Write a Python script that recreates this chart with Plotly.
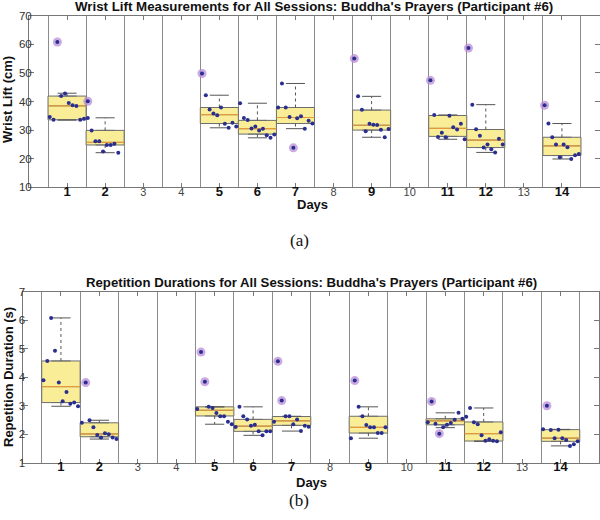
import plotly.graph_objects as go

# ---------------- data ----------------
days = [1, 2, 5, 6, 7, 9, 11, 12, 14]
all_days = list(range(1, 15))

# Panel (a): wrist lift (cm)
lift_points = [
    [34.6, 33.6, 60.8, 41.9, 42.8, 39.5, 38.7, 38.4, 33.6, 34.0, 34.2],
    [40.1, 29.9, 26.1, 26.1, 22.5, 24.8, 24.8, 25.2, 22.1],
    [49.8, 42.2, 37.2, 35.8, 35.2, 37.9, 32.2, 30.8, 32.6, 31.3],
    [39.4, 34.2, 33.5, 30.6, 31.3, 29.9, 30.5, 28.2, 27.3, 28.5],
    [37.9, 46.3, 37.9, 34.6, 23.8, 34.1, 34.8, 30.5, 33.3, 32.3],
    [55.0, 41.8, 37.1, 29.6, 32.2, 31.9, 31.8, 30.1, 27.5, 30.4],
    [47.4, 35.3, 27.6, 29.1, 27.5, 35.0, 31.0, 30.2, 32.2, 26.8],
    [58.7, 38.9, 30.3, 28.0, 23.9, 25.0, 23.3, 22.2, 27.0, 25.0],
    [38.7, 32.3, 27.5, 25.0, 20.5, 25.0, 24.0, 19.9, 21.2, 21.6],
]
lift_q1 = [33.6, 24.8, 32.3, 28.6, 32.3, 30.0, 27.8, 23.9, 21.1]
lift_med = [38.5, 25.7, 35.4, 30.5, 34.4, 31.7, 30.6, 26.5, 24.5]
lift_q3 = [41.9, 29.9, 37.9, 33.4, 37.9, 37.0, 35.1, 30.2, 27.5]
lift_wlo = [33.5, 22.1, 30.8, 27.3, 30.5, 27.5, 26.8, 22.2, 19.9]
lift_whi = [42.9, 34.3, 42.2, 39.4, 46.3, 41.8, 35.3, 38.9, 32.3]

# Panel (b): repetition durations (s)
dur_points = [
    [3.89, 4.57, 6.08, 4.93, 3.81, 3.16, 3.48, 3.07, 3.11, 2.98],
    [2.40, 3.81, 2.49, 2.24, 1.97, 1.88, 2.03, 2.00, 1.88, 1.83],
    [2.88, 4.88, 3.84, 2.96, 2.92, 2.74, 2.63, 2.63, 2.44, 2.35],
    [2.25, 2.96, 2.63, 2.52, 2.30, 2.33, 2.10, 1.96, 2.10, 2.10],
    [2.44, 4.56, 3.18, 2.63, 2.63, 2.35, 2.52, 2.11, 2.30, 2.26],
    [1.86, 3.88, 2.96, 2.63, 2.32, 2.24, 2.24, 2.04, 2.04, 2.24],
    [2.42, 3.15, 2.37, 2.02, 2.24, 2.33, 2.39, 2.51, 2.75, 2.54],
    [2.61, 2.92, 2.42, 2.35, 1.96, 1.77, 1.82, 1.77, 1.75, 2.07],
    [2.17, 3.00, 2.15, 1.86, 2.16, 1.86, 1.80, 1.59, 1.65, 1.75],
]
dur_q1 = [3.11, 1.91, 2.64, 2.10, 2.31, 2.04, 2.33, 1.76, 1.75]
dur_med = [3.67, 2.01, 2.84, 2.28, 2.47, 2.24, 2.47, 2.02, 1.86]
dur_q3 = [4.57, 2.40, 2.96, 2.52, 2.62, 2.63, 2.54, 2.43, 2.16]
dur_wlo = [2.98, 1.83, 2.35, 1.96, 2.11, 1.86, 2.23, 1.75, 1.59]
dur_whi = [6.08, 2.49, 2.96, 2.96, 2.63, 2.96, 2.75, 2.92, 2.17]

# ---------------- styles ----------------
BOX_FILL = "rgba(249,237,145,0.95)"
BOX_EDGE = "#6e6e6e"
MED_COL = "#e39a3c"
WHISK = "#555555"
PT_COL = "#2a2e8f"
HALO = "rgba(185,140,215,0.75)"
GRID = "#8c8c8c"
FONT = "Liberation Sans"

fig = go.Figure()


def add_panel(xa, ya, pts, q1, med, q3, wlo, whi, tol):
    xref = "x" if xa == "" else "x" + xa
    yref = "y" if ya == "" else "y" + ya
    fig.add_trace(go.Box(
        x=days, q1=q1, median=med, q3=q3, lowerfence=q1, upperfence=q3,
        width=1.0, fillcolor=BOX_FILL, line=dict(color=BOX_EDGE, width=1),
        boxpoints=False, showlegend=False, hoverinfo="skip",
        xaxis=xref, yaxis=yref,
    ))
    mx, my = [], []
    for d, m in zip(days, med):
        mx += [d - 0.5, d + 0.5, None]
        my += [m, m, None]
    fig.add_trace(go.Scatter(x=mx, y=my, mode="lines", line=dict(color=MED_COL, width=1.2),
                             showlegend=False, hoverinfo="skip", xaxis=xref, yaxis=yref))
    wx, wy = [], []
    for d, a, b, lo, hi in zip(days, q1, q3, wlo, whi):
        wx += [d, d, None, d, d, None]
        wy += [b, hi, None, a, lo, None]
    fig.add_trace(go.Scatter(x=wx, y=wy, mode="lines", line=dict(color=WHISK, width=1, dash="dot"),
                             showlegend=False, hoverinfo="skip", xaxis=xref, yaxis=yref))
    cx, cy = [], []
    for d, lo, hi in zip(days, wlo, whi):
        cx += [d - 0.25, d + 0.25, None, d - 0.25, d + 0.25, None]
        cy += [hi, hi, None, lo, lo, None]
    fig.add_trace(go.Scatter(x=cx, y=cy, mode="lines", line=dict(color=WHISK, width=1),
                             showlegend=False, hoverinfo="skip", xaxis=xref, yaxis=yref))
    px, py, ox, oy = [], [], [], []
    for d, vals, lo, hi in zip(days, pts, wlo, whi):
        for i, v in enumerate(vals):
            xx = d - 0.5 + 0.045 + 0.1 * i
            px.append(xx)
            py.append(v)
            if v > hi + tol or v < lo - tol:
                ox.append(xx)
                oy.append(v)
    fig.add_trace(go.Scatter(x=ox, y=oy, mode="markers",
                             marker=dict(size=9, color=HALO, line=dict(width=0)),
                             showlegend=False, hoverinfo="skip", xaxis=xref, yaxis=yref))
    fig.add_trace(go.Scatter(x=px, y=py, mode="markers",
                             marker=dict(size=4, color=PT_COL, line=dict(width=0)),
                             showlegend=False, hoverinfo="skip", xaxis=xref, yaxis=yref))


add_panel("", "", lift_points, lift_q1, lift_med, lift_q3, lift_wlo, lift_whi, 0.05)
add_panel("2", "2", dur_points, dur_q1, dur_med, dur_q3, dur_wlo, dur_whi, 0.005)

W, H = 600, 520
ticktext = [("<b>%d</b>" % d) if d in days
            else ("<span style='font-size:11px;color:#444444'>%d</span>" % d)
            for d in all_days]


def xaxis_cfg(dom):
    return dict(
        domain=dom, range=[0, 15], tickmode="array", tickvals=all_days, ticktext=ticktext,
        ticks="inside", ticklen=4, tickcolor="#777", mirror="ticks", automargin=False,
        showline=True, linecolor="#777", linewidth=1, showgrid=False, zeroline=False,
        ticklabelstandoff=-8,
        tickfont=dict(family=FONT, size=13, color="#111"),
        minor=dict(tick0=0.5, dtick=1, showgrid=True, gridcolor=GRID, gridwidth=1.2, ticks=""),
    )


def yaxis_cfg(dom, rng, dt):
    return dict(
        domain=dom, range=rng, dtick=dt, ticks="inside", ticklen=5, tickcolor="#777",
        mirror="ticks", showline=True, linecolor="#777", linewidth=1, showgrid=False,
        zeroline=False, automargin=False, ticklabelstandoff=-6,
        tickfont=dict(family=FONT, size=11.5, color="#333"),
    )


fig.update_layout(
    width=W, height=H, margin=dict(l=0, r=0, t=0, b=0, autoexpand=False),
    paper_bgcolor="white", plot_bgcolor="white",
    xaxis=xaxis_cfg([29 / W, 1.0]),
    yaxis=yaxis_cfg([1 - 187.3 / H, 1 - 15.7 / H], [10, 70], 10),
    xaxis2=xaxis_cfg([22.5 / W, 599 / W]),
    yaxis2=yaxis_cfg([1 - 462.7 / H, 1 - 291.7 / H], [1, 7], 1),
)
fig.update_layout(yaxis2=dict(anchor="x2"), xaxis2=dict(anchor="y2"))


def ann(text, xpx, ypx, size, bold=True, angle=0, family=FONT, color="#111"):
    fig.add_annotation(
        text=("<b>%s</b>" % text) if bold else text, x=xpx / W, y=1 - ypx / H,
        xref="paper", yref="paper", showarrow=False, textangle=angle,
        xanchor="center", yanchor="middle", font=dict(family=family, size=size, color=color),
    )


ann("Wrist Lift Measurements for All Sessions: Buddha's Prayers (Participant #6)", 314, 6.5, 13.3)
ann("Repetition Durations for All Sessions: Buddha's Prayers (Participant #6)", 311, 282, 13.2)
ann("Wrist Lift (cm)", 8, 100, 13, angle=-90)
ann("Repetition Duration (s)", 8, 377, 13, angle=-90)
ann("Days", 313, 205, 13)
ann("Days", 311, 482, 13)
ann("(a)", 299, 240, 17, bold=False, family="Liberation Serif")
ann("(b)", 299, 500, 17, bold=False, family="Liberation Serif")

fig.write_html("out.html", config={"displayModeBar": False},
               post_script="document.body.style.margin='0';document.body.style.overflow='hidden';")
